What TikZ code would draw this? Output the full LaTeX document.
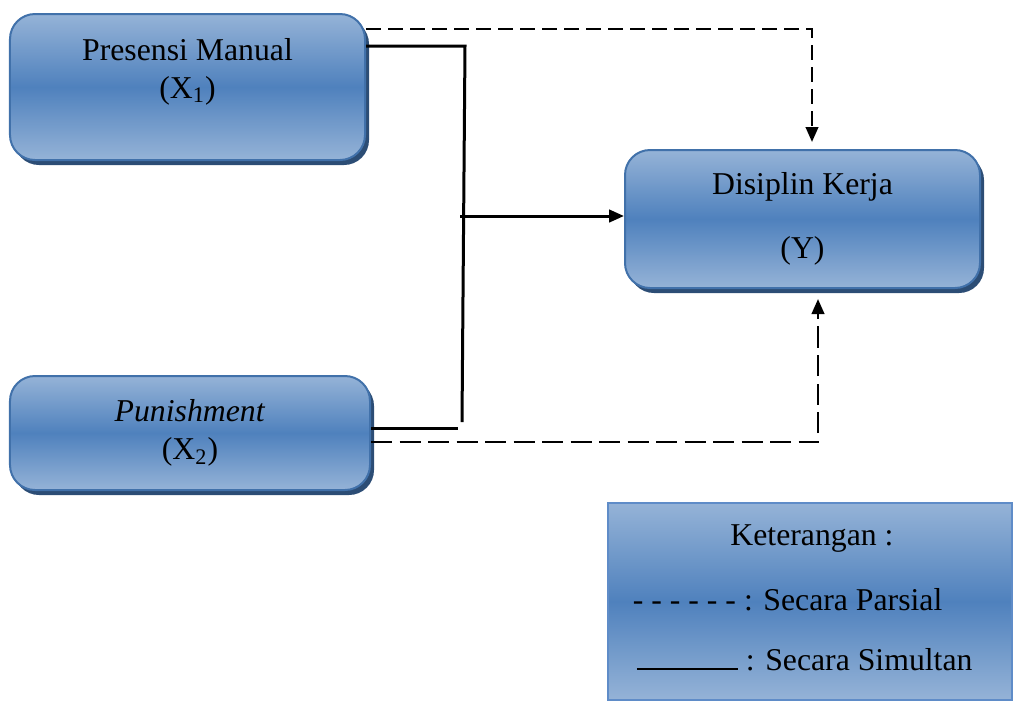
\documentclass[tikz,border=0pt]{standalone}
\usepackage{fontspec}
\setmainfont{Liberation Serif}
\usetikzlibrary{arrows.meta, shadows}
\definecolor{birumuda}{RGB}{149,179,215}
\definecolor{birutua}{RGB}{79,129,189}
\definecolor{garisbiru}{RGB}{65,113,170}
\definecolor{garisket}{RGB}{95,140,200}
\definecolor{bayang}{RGB}{44,77,117}
\tikzset{every picture/.style={line width=0.75pt}}

\begin{document}
\begin{tikzpicture}[x=0.4pt, y=-0.4pt, font=\fontsize{12.7}{15.2}\selectfont,
    kotak/.style={draw=garisbiru, line width=0.8pt, rounded corners=10pt,
        top color=birumuda, bottom color=birumuda, middle color=birutua, align=center,
        drop shadow={shadow xshift=1.6pt, shadow yshift=-2pt, fill=bayang, opacity=1}},
    keterangan/.style={draw=garisket, line width=1pt,
        top color=birumuda, bottom color=birumuda, middle color=birutua},
    parsial/.style={draw, line width=1pt, dash pattern=on 6pt off 2.8pt},
    simultan/.style={draw, line width=1.2pt},
    panah/.style={-{Triangle[length=6pt,width=5pt]}}]
    \useasboundingbox (0,0) rectangle (1014,702);
    % kotak variabel
    \node[kotak, minimum width=142pt, minimum height=58.4pt] (pm) at (187.5,87) {Presensi Manual\\(X\textsubscript{1})\\~};
    \node[kotak, minimum width=144pt, minimum height=45.6pt] (pun) at (190,433) {\textit{Punishment}\\(X\textsubscript{2})};
    \node[kotak, minimum width=142pt, minimum height=55.2pt] (dk) at (802.5,219) {Disiplin Kerja\\[10.4pt](Y)};
    % keterangan
    \node[keterangan, minimum width=161.6pt, minimum height=78.8pt] (ket) at (810,601.5) {};
    \node[anchor=base] (judul) at (812,545) {Keterangan :};
    \node[anchor=base west, inner sep=0pt] (lparsial) at (632,610) {- - - - - - : Secara Parsial};
    \node[anchor=base west, inner sep=0pt] (lsimultan) at (636,670) {\rule{40.4pt}{1pt} : Secara Simultan};
    % titik belok
    \coordinate (p1) at (812,29);
    \coordinate (p2) at (818,442);
    \coordinate (s1) at (465,46);
    \coordinate (s2) at (462,422);
    \coordinate (s3) at (460,216);
    \coordinate (s4) at (458,428);
    % garis parsial
    \draw[parsial, panah, shorten >=2.8pt] (pm.east |- p1) -- (p1) -- (p1 |- dk.north);
    \draw[parsial, panah, shorten >=4pt, dash pattern=on 8.4pt off 3pt] (pun.east |- p2) -- (p2) -- (p2 |- dk.south);
    % garis simultan
    \draw[simultan] (pm.east |- s1) -- (s1) -- (s2);
    \draw[simultan] (pun.east |- s4) -- (s4);
    \draw[simultan, panah] (s3) -- (dk.west |- s3);
\end{tikzpicture}
\end{document}
